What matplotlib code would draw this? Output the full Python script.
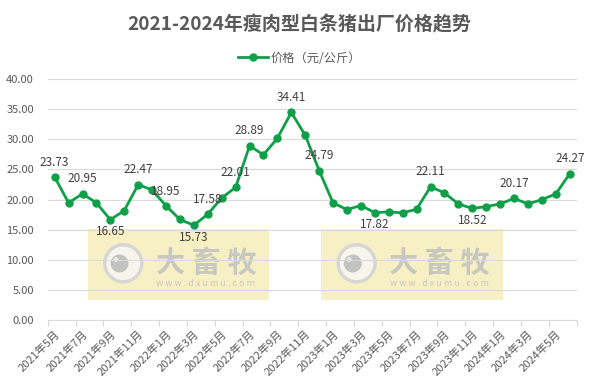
import matplotlib
matplotlib.use('Agg')
import matplotlib.pyplot as plt
from matplotlib.patches import Rectangle, Circle

plt.rcParams['font.family'] = ['Noto Sans CJK SC', 'DejaVu Sans']

title = '2021-2024年瘦肉型白条猪出厂价格趋势'
series_name = '价格（元/公斤）'

months = ['2021年5月', '2021年6月', '2021年7月', '2021年8月', '2021年9月', '2021年10月',
          '2021年11月', '2021年12月', '2022年1月', '2022年2月', '2022年3月', '2022年4月',
          '2022年5月', '2022年6月', '2022年7月', '2022年8月', '2022年9月', '2022年10月',
          '2022年11月', '2022年12月', '2023年1月', '2023年2月', '2023年3月', '2023年4月',
          '2023年5月', '2023年6月', '2023年7月', '2023年8月', '2023年9月', '2023年10月',
          '2023年11月', '2023年12月', '2024年1月', '2024年2月', '2024年3月', '2024年4月',
          '2024年5月', '2024年6月']
prices = [23.73, 19.44, 20.95, 19.44, 16.65, 18.17, 22.47, 21.58, 18.95, 16.69,
          15.73, 17.58, 20.26, 22.01, 28.89, 27.40, 30.15, 34.41, 30.64, 24.79,
          19.44, 18.33, 19.00, 17.82, 17.95, 17.79, 18.39, 22.11, 21.09, 19.27,
          18.52, 18.83, 19.27, 20.17, 19.27, 19.98, 20.92, 24.27]

# which points carry a value label, and on which side
label_idx = [0, 2, 4, 6, 8, 10, 11, 13, 14, 17, 19, 23, 27, 30, 33, 37]
label_side = ['up', 'up', 'down', 'up', 'up', 'down', 'up', 'up', 'up', 'up',
              'up', 'down', 'up', 'down', 'up', 'up']

yticks = [0, 5, 10, 15, 20, 25, 30, 35, 40]

W, H = 599, 392
green = '#0f9f48'

fig = plt.figure(figsize=(W / 100, H / 100), dpi=100)
ax = fig.add_axes([47.7 / W, 1 - 320.3 / H, 529 / W, (320.3 - 78.7) / H])
ax.patch.set_alpha(0)

x = list(range(len(prices)))
line, = ax.plot(x, prices, color=green, linewidth=2.0, marker='o', markersize=5,
                label=series_name, zorder=3)

for i, side in zip(label_idx, label_side):
    if side == 'up':
        ax.annotate(f'{prices[i]:.2f}', (i, prices[i]), xytext=(0, 6), textcoords='offset points',
                    ha='center', va='bottom', fontsize=8.5, color='#404040', zorder=4)
    else:
        ax.annotate(f'{prices[i]:.2f}', (i, prices[i]), xytext=(0, -4), textcoords='offset points',
                    ha='center', va='top', fontsize=8.5, color='#404040', zorder=4)

ax.set_xlim(-0.5, len(prices) - 0.5)
ax.set_ylim(0, 40)
ax.set_yticks(yticks)
ax.set_yticklabels([f'{v:.2f}' for v in yticks])
ax.grid(axis='y', color='#d9d9d9', linewidth=0.8)
ax.set_axisbelow(True)

# tick marks between category pairs, labels on every other month
ax.set_xticks([k - 0.5 for k in range(0, len(prices) + 1, 2)])
ax.set_xticklabels([])
ax.set_xticks(x[::2], minor=True)
ax.set_xticklabels(months[::2], minor=True, rotation=45, ha='right', rotation_mode='anchor',
                   fontsize=8, color='#595959')
ax.tick_params(axis='x', which='major', length=4, color='#d9d9d9', direction='out')
ax.tick_params(axis='x', which='minor', length=0, pad=6)
ax.tick_params(axis='y', length=0, labelsize=8, labelcolor='#595959', pad=10)

for s in ['top', 'right', 'left']:
    ax.spines[s].set_visible(False)
ax.spines['bottom'].set_color('#d9d9d9')

fig.text(0.5, 1 - 25 / H, title, ha='center', va='center', fontsize=13.7,
         fontweight='bold', color='#595959')
fig.legend(handles=[line], loc='center', bbox_to_anchor=(0.5, 1 - 58 / H), frameon=False,
           fontsize=8.8, labelcolor='#595959', handlelength=2.4, handletextpad=0.2)


# watermark boxes, placed in pixel units (inches * 100), behind the axes
def inch(xp, yp):
    return xp / 100, (H - yp) / 100


tr = fig.dpi_scale_trans
for dx in [0, 233.3]:
    fig.add_artist(Rectangle(inch(87.7 + dx, 300), 1.816, 0.707, transform=tr,
                             facecolor='#f6f0c4', edgecolor='none', zorder=-3))
    fig.add_artist(Circle(inch(123.3 + dx, 263.3), 0.185, transform=tr,
                          facecolor='#f8f6ec', edgecolor='#d6d6d4', linewidth=2.4, zorder=-2))
    fig.add_artist(Circle(inch(119.5 + dx, 263.5), 0.09, transform=tr,
                          facecolor='#c2c2c0', edgecolor='none', zorder=-1))
    fig.add_artist(Circle(inch(116 + dx, 259.5), 0.025, transform=tr,
                          facecolor='#e8e8e6', edgecolor='none', zorder=-1))
    t1 = fig.text((206 + dx) / W, 1 - 263 / H, '大 畜 牧', ha='center', va='center',
                  fontsize=21, fontweight='bold', color='#c9c8c0')
    t2 = fig.text((206 + dx) / W, 1 - 284 / H, 'w w w . d x u m u . c o m', ha='center',
                  va='center', fontsize=6.5, color='#c9c8c0')
    t1.set_zorder(-1)
    t2.set_zorder(-1)

fig.savefig('out.png', dpi=100)
